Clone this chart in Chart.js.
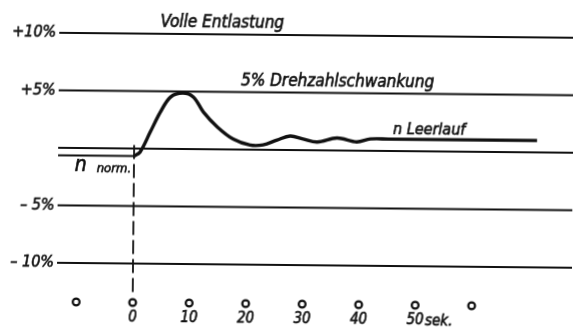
<!DOCTYPE html>
<html>
<head>
<meta charset="utf-8">
<script src="https://cdn.jsdelivr.net/npm/chart.js@4"></script>
<style>
  html, body { margin: 0; padding: 0; background: #fff; overflow: hidden; }
  #wrap { width: 573px; height: 327px; }
  /* die Vorlage liegt leicht schräg */
  #chartRegler { transform: rotate(0.55deg); transform-origin: 50% 50%; }
</style>
</head>
<body>
<div id="wrap"><canvas id="chartRegler"></canvas></div>
<script>
// Drehzahlverlauf nach voller Entlastung (Zeit in sek, Drehzahl in %)
const zeitSek  = [0, 1.06, 2.83, 4.6, 6.37, 8.5, 10.4, 12.2, 14.7, 17.5, 20.5, 22.8, 25.3, 27.6, 29.9, 32.4, 35.9, 39.4, 41.8, 45, 71.3];
const drehzahl = [-0.66, -0.3, 1.45, 3.2, 4.51, 4.87, 4.53, 3.23, 1.94, 0.91, 0.4, 0.42, 0.86, 1.22, 0.97, 0.72, 1.09, 0.76, 1.03, 1.03, 1.03];

// waagerechte Bezugslinien
const stufen = [10, 5, 0, -5, -10];
const stufenText = ['+10%', '+5%', '', '\u2013 5%', '\u2013 10%'];
const nNorm = -0.66;
const nNormBis = 0;

// Zeitmarken unten
const zeitMarken = [-10, 0, 10, 20, 30, 40, 50, 60];
const zeitText = ['', '0', '10', '20', '30', '40', '50', ''];

const xMin = -13.45, xMax = 77.7;
const yMin = -12.78, yMax = 13.04;

const FONT = "'DejaVu Sans Condensed', 'Liberation Sans Narrow', 'DejaVu Sans', sans-serif";
const INK = '#111';

const datasets = [];

stufen.forEach(s => {
  datasets.push({
    data: [{ x: xMin, y: s }, { x: xMax, y: s }],
    borderColor: INK, borderWidth: 2, pointRadius: 0
  });
});

datasets.push({
  data: [{ x: xMin, y: nNorm }, { x: nNormBis, y: nNorm }],
  borderColor: INK, borderWidth: 2, pointRadius: 0
});

// gestrichelte Linie bei t = 0
datasets.push({
  data: [{ x: 0, y: 0.3 }, { x: 0, y: yMin }],
  borderColor: INK, borderWidth: 1.8, borderDash: [14, 5], pointRadius: 0
});

datasets.push({
  data: zeitSek.map((t, i) => ({ x: t, y: drehzahl[i] })),
  borderColor: INK, borderWidth: 3.4, pointRadius: 0,
  tension: 0.35
});

// Text etwas kräftiger, wie Tuschschrift
function schrift(ctx, text, x, y) {
  ctx.fillText(text, x, y);
  ctx.strokeText(text, x, y);
}

// Beschriftungen und Zeitmarken
const beschriftung = {
  id: 'beschriftung',
  afterDraw(chart) {
    const ctx = chart.ctx;
    const xs = chart.scales.x, ys = chart.scales.y;
    const bottom = chart.chartArea.bottom;
    ctx.save();
    ctx.fillStyle = INK;
    ctx.strokeStyle = INK;
    ctx.lineWidth = 0.6;
    ctx.textBaseline = 'alphabetic';

    ctx.font = 'italic 17px ' + FONT;
    ctx.textAlign = 'center';
    schrift(ctx, 'Volle Entlastung', xs.getPixelForValue(15.4), ys.getPixelForValue(10) - 7);
    schrift(ctx, '5% Drehzahlschwankung', xs.getPixelForValue(35.9), ys.getPixelForValue(5) - 6);

    ctx.textAlign = 'left';
    ctx.font = 'italic 16px ' + FONT;
    schrift(ctx, 'n Leerlauf', xs.getPixelForValue(45.8), ys.getPixelForValue(1.03) - 5);

    ctx.font = 'italic 21px ' + FONT;
    schrift(ctx, 'n', xs.getPixelForValue(-10.5), ys.getPixelForValue(nNorm) + 15);
    ctx.font = 'italic 13px ' + FONT;
    schrift(ctx, 'norm.', xs.getPixelForValue(-6.6), ys.getPixelForValue(nNorm) + 16);

    ctx.font = 'italic 15px ' + FONT;
    schrift(ctx, 'sek.', xs.getPixelForValue(50) + 10, bottom + 27);

    // kleine Kreise an den Zeitmarken
    ctx.lineWidth = 2.2;
    zeitMarken.forEach(t => {
      ctx.beginPath();
      ctx.arc(xs.getPixelForValue(t), bottom + 7, 3.4, 0, Math.PI * 2);
      ctx.stroke();
    });
    ctx.restore();
  }
};

new Chart(document.getElementById('chartRegler'), {
  type: 'line',
  data: { datasets },
  options: {
    responsive: true,
    maintainAspectRatio: false,
    animation: false,
    layout: { padding: 0 },
    plugins: { legend: { display: false }, tooltip: { enabled: false } },
    scales: {
      x: {
        type: 'linear', min: xMin, max: xMax,
        grid: { display: false, drawTicks: false },
        border: { display: false },
        afterBuildTicks: axis => { axis.ticks = zeitMarken.map(v => ({ value: v })); },
        afterFit: axis => { axis.height = 30; axis.paddingLeft = 0; axis.paddingRight = 0; },
        ticks: {
          padding: 13, maxRotation: 0, autoSkip: false,
          color: INK, textStrokeColor: INK, textStrokeWidth: 0.6,
          font: { family: FONT, size: 15, style: 'italic' },
          callback: v => zeitText[zeitMarken.indexOf(v)]
        }
      },
      y: {
        type: 'linear', min: yMin, max: yMax,
        grid: { display: false, drawTicks: false },
        border: { display: false },
        afterBuildTicks: axis => { axis.ticks = stufen.map(v => ({ value: v })); },
        afterFit: axis => { axis.width = 58; axis.paddingTop = 0; axis.paddingBottom = 0; },
        ticks: {
          padding: 3, color: INK, textStrokeColor: INK, textStrokeWidth: 0.6,
          font: { family: FONT, size: 16, style: 'italic' },
          callback: v => stufenText[stufen.indexOf(v)]
        }
      }
    }
  },
  plugins: [beschriftung]
});
</script>
</body>
</html>
